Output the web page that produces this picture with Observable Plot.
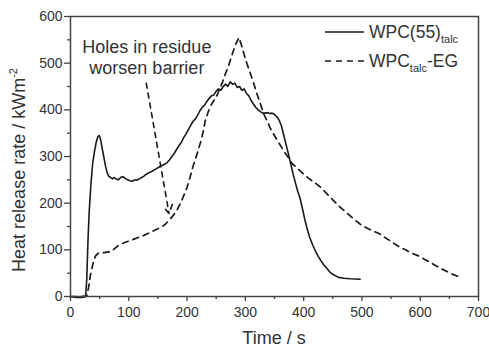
<!DOCTYPE html>
<html>
<head>
<meta charset="utf-8">
<script src="https://cdn.jsdelivr.net/npm/d3@7"></script>
<script src="https://cdn.jsdelivr.net/npm/@observablehq/plot@0.6"></script>
<style>
  html, body { margin: 0; padding: 0; background: #fff; }
  svg { display: block; }
</style>
</head>
<body>
<div id="chart"></div>
<script>
// WPC(55)_talc  (solid)
const time55 = [0,5,10,15,20,24,26,28,30,32,35,38,41,44,47,49,51,54,57,60,63,66,69,72,75,78,82,86,90,94,98,102,106,110,114,118,122,126,130,134,138,142,146,150,154,158,162,166,170,174,178,182,186,190,194,198,202,206,210,214,218,222,226,230,234,238,242,246,250,254,258,262,266,270,274,278,282,286,290,294,298,302,306,310,314,318,322,326,330,334,338,342,346,350,354,358,362,366,370,374,378,382,386,390,394,398,402,406,410,415,420,425,430,435,440,446,452,460,469,480,497];
const hrr55  = [0,-1,-2,-2,-2,-1,0,40,120,180,240,285,310,330,343,345,340,320,300,280,265,257,255,252,255,252,250,255,257,253,250,248,247,250,249,252,255,258,262,265,267,270,273,276,279,281,284,287,293,300,307,315,323,330,340,348,357,366,375,380,388,398,405,410,418,425,430,432,440,445,442,450,455,450,460,455,457,448,450,442,445,435,430,420,412,405,400,396,393,393,394,392,393,390,385,378,365,345,325,305,283,262,243,225,210,188,165,145,128,112,98,86,76,67,60,51,46,41,39,38,37];

// WPC_talc-EG  (dashed)
const timeEG = [0,10,20,28,31,34,37,40,43,47,52,57,63,69,75,81,86,92,98,103,109,115,120,126,131,137,143,148,154,160,165,171,177,183,188,193,197,200,205,210,217,223,228,231,236,241,246,251,256,261,266,270,274,279,284,289,293,298,303,308,314,320,326,332,338,343,350,356,362,368,375,380,387,394,402,410,420,429,440,450,463,475,486,497,508,520,531,540,549,557,566,575,585,597,607,617,627,637,647,655,663,668];
const hrrEG  = [0,0,0,2,19,45,62,78,87,92,94,94,95,96,102,108,112,115,118,120,123,126,128,131,134,137,141,144,148,152,158,166,175,186,198,212,225,234,255,278,305,330,355,376,395,410,420,430,445,460,478,490,505,525,542,555,540,518,498,480,458,434,412,390,374,360,345,332,320,308,295,285,277,269,260,252,243,234,220,207,191,178,166,155,147,140,134,126,119,112,105,100,93,87,80,73,66,59,53,48,44,43];

const xTicks = [0,100,200,300,400,500,600,700];
const xMinor = [50,150,250,350,450,550,650];
const yTicks = [0,100,200,300,400,500,600];
const yMinor = [50,150,250,350,450,550];

const annotText = ["Holes in residue\nworsen barrier"];
const annotX = [131];
const annotY = [514];
const arrowX1 = [130], arrowY1 = [457], arrowX2 = [169], arrowY2 = [178];

const d55 = time55.map((t, i) => ({t, v: hrr55[i]}));
const dEG = timeEG.map((t, i) => ({t, v: hrrEG[i]}));
const annot = annotText.map((text, i) => ({text, x: annotX[i], y: annotY[i]}));
const arrows = arrowX1.map((x1, i) => ({x1, y1: arrowY1[i], x2: arrowX2[i], y2: arrowY2[i]}));

const font = "'Liberation Sans', Arial, Helvetica, sans-serif";
const ink = "#1a1a1a";

const chart = Plot.plot({
  width: 489,
  height: 348,
  marginLeft: 70,
  marginRight: 11,
  marginTop: 16,
  marginBottom: 52,
  x: {domain: [0, 700]},
  y: {domain: [0, 600]},
  style: {fontFamily: font, fontSize: "14px", color: "#333", background: "white", overflow: "visible"},
  marks: [
    Plot.axisX({ticks: xTicks, tickSize: 5, tickPadding: 6, label: null, fontSize: 14, stroke: "#444", strokeWidth: 1.3, fill: "#333"}),
    Plot.axisX({ticks: xMinor, tickSize: 3, text: null, label: null, stroke: "#444", strokeWidth: 1.3}),
    Plot.axisY({ticks: yTicks, tickSize: 6, tickPadding: 2, label: null, fontSize: 14, stroke: "#444", strokeWidth: 1.3, fill: "#333"}),
    Plot.axisY({ticks: yMinor, tickSize: 3, text: null, label: null, stroke: "#444", strokeWidth: 1.3}),
    Plot.line(d55, {x: "t", y: "v", stroke: ink, strokeWidth: 1.6}),
    Plot.line(dEG, {x: "t", y: "v", stroke: ink, strokeWidth: 1.7, strokeDasharray: "6,5"}),
    Plot.arrow(arrows, {x1: "x1", y1: "y1", x2: "x2", y2: "y2", stroke: ink, strokeWidth: 1.6, strokeDasharray: "5,5", headLength: 9}),
    Plot.text(annot, {x: "x", y: "y", text: "text", fontSize: 18, lineHeight: 1.17, fill: "#333", fontFamily: font}),
    Plot.frame({stroke: "#444", strokeWidth: 1.5})
  ]
});

document.getElementById("chart").appendChild(chart);

const svg = d3.select(chart);

// Axis labels
const yl = svg.append("text")
  .attr("transform", "translate(25,170) rotate(-90)")
  .attr("text-anchor", "middle")
  .attr("font-family", font)
  .attr("font-size", 18)
  .attr("fill", "#333");
yl.append("tspan").text("Heat release rate / kWm");
yl.append("tspan").attr("font-size", 11).attr("dy", -8).text("-2");

svg.append("text")
  .attr("x", 274).attr("y", 344)
  .attr("text-anchor", "middle")
  .attr("font-family", font)
  .attr("font-size", 18)
  .attr("fill", "#333")
  .text("Time / s");

// Legend
const legendRows = [
  {dash: null, y: 32, parts: [["WPC(55)", 0], ["talc", 1]]},
  {dash: "6,5", y: 61, parts: [["WPC", 0], ["talc", 1], ["-EG", 0]]}
];
legendRows.forEach(r => {
  const ln = svg.append("line")
    .attr("x1", 325).attr("x2", 364)
    .attr("y1", r.y).attr("y2", r.y)
    .attr("stroke", ink).attr("stroke-width", 1.5);
  if (r.dash) ln.attr("stroke-dasharray", r.dash);
  const t = svg.append("text")
    .attr("x", 369).attr("y", r.y + 6)
    .attr("text-anchor", "start")
    .attr("font-family", font)
    .attr("font-size", 17.5)
    .attr("fill", "#333");
  let shifted = false;
  r.parts.forEach(([s, sub]) => {
    const ts = t.append("tspan").text(s);
    if (sub && !shifted) { ts.attr("font-size", 11).attr("dy", 5); shifted = true; }
    else if (!sub && shifted) { ts.attr("dy", -5); shifted = false; }
  });
});
</script>
</body>
</html>
